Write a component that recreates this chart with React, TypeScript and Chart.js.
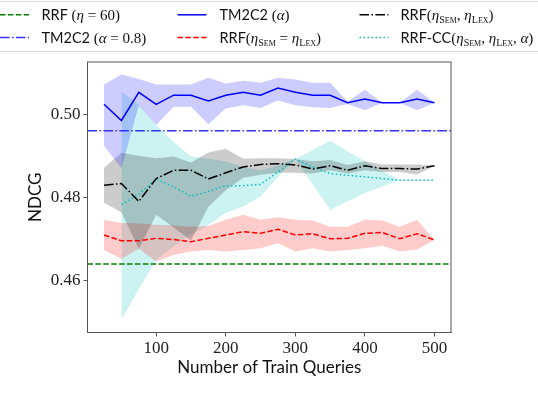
import React, { useEffect, useRef } from 'react';
import { Chart, registerables } from 'chart.js';

Chart.register(...registerables);

// ---------------- data ----------------
const trainQueries = [25, 50, 75, 100, 125, 150, 175, 200, 225, 250, 275, 300, 325, 350, 375, 400, 425, 450, 475, 500];
const xTicks = [100, 200, 300, 400, 500];
const yTicks = [0.46, 0.48, 0.5];
const X_MIN = 1.25;
const X_MAX = 523.75;
const Y_MIN = 0.4475;
const Y_MAX = 0.5127;

const rrfEta60 = 0.464;
const tm2c2Alpha08 = 0.4961;

const tm2c2Alpha = [0.5025, 0.4986, 0.5054, 0.5025, 0.5047, 0.5047, 0.5033, 0.5047, 0.5054, 0.5047, 0.5064, 0.5054, 0.5047, 0.5047, 0.5029, 0.5038, 0.5029, 0.5029, 0.5038, 0.5029];
const tm2c2AlphaHigh = [0.5073, 0.5097, 0.5086, 0.5073, 0.5073, 0.5073, 0.5089, 0.5075, 0.5082, 0.5077, 0.5089, 0.5085, 0.5077, 0.5077, 0.5032, 0.5060, 0.5029, 0.5029, 0.5060, 0.5029];
const tm2c2AlphaLow = [0.4925, 0.4871, 0.5022, 0.4975, 0.5019, 0.5019, 0.4977, 0.5015, 0.5023, 0.5016, 0.5034, 0.5023, 0.5018, 0.5016, 0.5026, 0.5011, 0.5029, 0.5029, 0.5011, 0.5029];

const rrfSemLex = [0.4830, 0.4834, 0.4791, 0.4846, 0.4866, 0.4866, 0.4845, 0.4860, 0.4874, 0.4880, 0.4882, 0.4879, 0.4869, 0.4877, 0.4866, 0.4877, 0.4870, 0.4870, 0.4869, 0.4877];
const rrfSemLexHigh = [0.4872, 0.4908, 0.4901, 0.4895, 0.4899, 0.4885, 0.4909, 0.4918, 0.4894, 0.4895, 0.4895, 0.4893, 0.4888, 0.4891, 0.4879, 0.4888, 0.4880, 0.4880, 0.4880, 0.4877];
const rrfSemLexLow = [0.4788, 0.4765, 0.4677, 0.4759, 0.4728, 0.4697, 0.4778, 0.4818, 0.4848, 0.4855, 0.4860, 0.4860, 0.4858, 0.4866, 0.4858, 0.4866, 0.4862, 0.4862, 0.4856, 0.4877];

const rrfEqual = [0.4710, 0.4696, 0.4696, 0.4702, 0.4699, 0.4694, 0.4702, 0.4710, 0.4718, 0.4714, 0.4724, 0.4710, 0.4713, 0.4701, 0.4702, 0.4714, 0.4716, 0.4701, 0.4713, 0.4698];
const rrfEqualHigh = [0.4747, 0.4739, 0.4738, 0.4735, 0.4733, 0.4730, 0.4732, 0.4747, 0.4759, 0.4747, 0.4753, 0.4747, 0.4745, 0.4730, 0.4730, 0.4747, 0.4745, 0.4730, 0.4747, 0.4698];
const rrfEqualLow = [0.4673, 0.4653, 0.4677, 0.4646, 0.4662, 0.4670, 0.4674, 0.4670, 0.4674, 0.4678, 0.4690, 0.4670, 0.4678, 0.4670, 0.4674, 0.4678, 0.4684, 0.4670, 0.4675, 0.4698];

const rrfCC = [null, 0.4783, 0.4808, 0.4845, 0.4826, 0.4803, 0.4815, 0.4829, 0.4829, 0.4832, 0.4862, 0.4893, 0.4874, 0.4858, 0.4854, 0.4850, 0.4846, 0.4842, 0.4842, 0.4842];
const rrfCCHigh = [null, 0.5056, 0.5024, 0.4975, 0.4935, 0.4899, 0.4894, 0.4887, 0.4874, 0.4866, 0.4878, 0.4893, 0.4915, 0.4937, 0.4912, 0.4888, 0.4865, 0.4842, 0.4842, 0.4842];
const rrfCCLow = [null, 0.4506, 0.4580, 0.4650, 0.4682, 0.4710, 0.4734, 0.4763, 0.4779, 0.4803, 0.4850, 0.4893, 0.4832, 0.4771, 0.4791, 0.4811, 0.4827, 0.4842, 0.4842, 0.4842];

// ---------------- styles ----------------
const SANS = 'Lato, "Open Sans", sans-serif';
const SERIF = '"Liberation Serif", "Times New Roman", Times, "DejaVu Serif", serif';
const DASHED = [5.5, 2.4];
const DASHDOT = [9.6, 2.4, 1.5, 2.4];
const DOTTED = [1.5, 2.5];
const GREEN = '#008000';
const BLUE = '#0000ff';
const BLUE2 = '#3333ff';
const RED = '#ff0000';
const BLACK = '#000000';
const CYAN = '#00bfbf';

type Seg = { t: string; f: string; dy?: number };
const LFS = 14.5;
const sans = (t: string): Seg => ({ t, f: `${LFS}px ${SANS}` });
const rm = (t: string): Seg => ({ t, f: `${LFS + 0.5}px ${SERIF}` });
const it = (t: string): Seg => ({ t, f: `italic ${LFS + 0.5}px ${SERIF}` });
const sc = (a: string, b: string): Seg[] => [
  { t: a, f: `10px ${SERIF}`, dy: 3 },
  { t: b, f: `8px ${SERIF}`, dy: 3 },
];

const legendItems = [
  { label: [sans('RRF '), rm('('), it('η'), rm(' = 60)')], color: GREEN, dash: DASHED, col: 0, row: 0 },
  { label: [sans('TM2C2 '), rm('('), it('α'), rm(' = 0.8)')], color: BLUE2, dash: DASHDOT, col: 0, row: 1 },
  { label: [sans('TM2C2 '), rm('('), it('α'), rm(')')], color: BLUE, dash: [] as number[], col: 1, row: 0 },
  { label: [sans('RRF'), rm('('), it('η'), ...sc('S', 'EM'), rm(' = '), it('η'), ...sc('L', 'EX'), rm(')')], color: RED, dash: DASHED, col: 1, row: 1 },
  { label: [sans('RRF'), rm('('), it('η'), ...sc('S', 'EM'), rm(', '), it('η'), ...sc('L', 'EX'), rm(')')], color: BLACK, dash: DASHDOT, col: 2, row: 0 },
  { label: [sans('RRF-CC'), rm('('), it('η'), ...sc('S', 'EM'), rm(', '), it('η'), ...sc('L', 'EX'), rm(', '), it('α'), rm(')')], color: CYAN, dash: DOTTED, col: 2, row: 1 },
];

const colHandleX = [0, 177.5, 359.5];
const colTextX = [41.5, 219.5, 400.5];
const rowY = [14.8, 37.5];
const HANDLE_W = 29;

const legendPlugin = {
  id: 'customLegend',
  afterDraw(chart: any) {
    const ctx = chart.ctx as CanvasRenderingContext2D;
    ctx.save();
    ctx.strokeStyle = '#d6d6d6';
    ctx.lineWidth = 1;
    ctx.beginPath();
    ctx.moveTo(0, 1.5);
    ctx.lineTo(chart.width, 1.5);
    ctx.moveTo(0, 51.5);
    ctx.lineTo(chart.width, 51.5);
    ctx.stroke();
    for (const item of legendItems) {
      const y = rowY[item.row];
      ctx.strokeStyle = item.color;
      ctx.lineWidth = 1.5;
      ctx.setLineDash(item.dash);
      ctx.beginPath();
      ctx.moveTo(colHandleX[item.col], y);
      ctx.lineTo(colHandleX[item.col] + HANDLE_W, y);
      ctx.stroke();
      ctx.setLineDash([]);
      let x = colTextX[item.col];
      ctx.fillStyle = '#111';
      ctx.textBaseline = 'alphabetic';
      ctx.textAlign = 'left';
      const base = y + 5.2;
      for (const s of item.label) {
        ctx.font = s.f;
        ctx.fillText(s.t, x, base + (s.dy || 0));
        x += ctx.measureText(s.t).width;
      }
    }
    ctx.restore();
  },
};

const framePlugin = {
  id: 'frame',
  afterDatasetsDraw(chart: any) {
    const { ctx, chartArea } = chart;
    ctx.save();
    ctx.strokeStyle = '#555';
    ctx.lineWidth = 1;
    ctx.strokeRect(chartArea.left, chartArea.top, chartArea.right - chartArea.left, chartArea.bottom - chartArea.top);
    ctx.restore();
  },
};

const pts = (arr: (number | null)[]) => trainQueries.map((x, i) => ({ x, y: arr[i] }));
const hline = (v: number) => [{ x: X_MIN, y: v }, { x: X_MAX, y: v }];

const lineDs = (label: string, data: any, color: string, dash: number[]) => ({
  label,
  data,
  borderColor: color,
  backgroundColor: color,
  borderWidth: 1.5,
  borderDash: dash,
  pointRadius: 0,
  fill: false,
  tension: 0,
  order: 0,
});
const bandLow = (data: any) => ({
  label: '',
  data,
  borderWidth: 0,
  borderColor: 'rgba(0,0,0,0)',
  pointRadius: 0,
  fill: false,
  order: 1,
});
const bandHigh = (data: any, color: string) => ({
  label: '',
  data,
  borderWidth: 0,
  borderColor: 'rgba(0,0,0,0)',
  backgroundColor: color,
  pointRadius: 0,
  fill: '-1',
  order: 1,
});

export default function App() {
  const ref = useRef<HTMLCanvasElement>(null);
  useEffect(() => {
    document.body.style.margin = '0';
    const canvas = ref.current!;
    const chart = new Chart(canvas, {
      type: 'line',
      data: {
        datasets: [
          lineDs('RRF (η = 60)', hline(rrfEta60), GREEN, DASHED),
          lineDs('TM2C2 (α = 0.8)', hline(tm2c2Alpha08), BLUE2, DASHDOT),
          lineDs('TM2C2 (α)', pts(tm2c2Alpha), BLUE, []),
          lineDs('RRF(ηSEM = ηLEX)', pts(rrfEqual), RED, DASHED),
          lineDs('RRF(ηSEM, ηLEX)', pts(rrfSemLex), BLACK, DASHDOT),
          lineDs('RRF-CC(ηSEM, ηLEX, α)', pts(rrfCC), CYAN, DOTTED),
          bandLow(pts(tm2c2AlphaLow)),
          bandHigh(pts(tm2c2AlphaHigh), 'rgba(0,0,255,0.2)'),
          bandLow(pts(rrfSemLexLow)),
          bandHigh(pts(rrfSemLexHigh), 'rgba(0,0,0,0.2)'),
          bandLow(pts(rrfEqualLow)),
          bandHigh(pts(rrfEqualHigh), 'rgba(255,0,0,0.2)'),
          bandLow(pts(rrfCCLow)),
          bandHigh(pts(rrfCCHigh), 'rgba(0,191,191,0.2)'),
        ] as any,
      },
      options: {
        responsive: false,
        animation: false,
        events: [],
        layout: { padding: { left: 0, right: 87, top: 62, bottom: 0 } },
        plugins: {
          legend: { display: false },
          tooltip: { enabled: false },
          title: { display: false },
        },
        scales: {
          x: {
            type: 'linear',
            min: X_MIN,
            max: X_MAX,
            afterBuildTicks: (s: any) => { s.ticks = xTicks.map((v) => ({ value: v })); },
            afterFit: (s: any) => { s.height = 63.5; },
            grid: { display: true, drawOnChartArea: false, drawTicks: true, tickLength: 4, color: '#555' },
            border: { display: true, color: '#555' },
            ticks: {
              font: { family: SERIF, size: 17 },
              color: '#222',
              padding: 2,
              maxRotation: 0,
              callback: (v: any) => String(v),
            },
            title: {
              display: true,
              text: 'Number of Train Queries',
              font: { family: SANS, size: 17 },
              color: '#111',
              padding: { top: 0, bottom: 18 },
            },
          },
          y: {
            type: 'linear',
            min: Y_MIN,
            max: Y_MAX,
            afterBuildTicks: (s: any) => { s.ticks = yTicks.map((v) => ({ value: v })); },
            afterFit: (s: any) => { s.width = 87.5; },
            grid: { display: true, drawOnChartArea: false, drawTicks: true, tickLength: 4, color: '#555' },
            border: { display: true, color: '#555' },
            ticks: {
              font: { family: SERIF, size: 17 },
              color: '#222',
              padding: 3,
              callback: (v: any) => Number(v).toFixed(2),
            },
            title: {
              display: true,
              text: 'NDCG',
              font: { family: SANS, size: 17 },
              color: '#111',
              padding: { top: 25, bottom: 0 },
            },
          },
        },
      } as any,
      plugins: [legendPlugin, framePlugin],
    });
    return () => chart.destroy();
  }, []);
  return (
    <div style={{ width: 538, height: 396, position: 'relative', background: '#fff' }}>
      <canvas ref={ref} width={538} height={396} />
    </div>
  );
}
